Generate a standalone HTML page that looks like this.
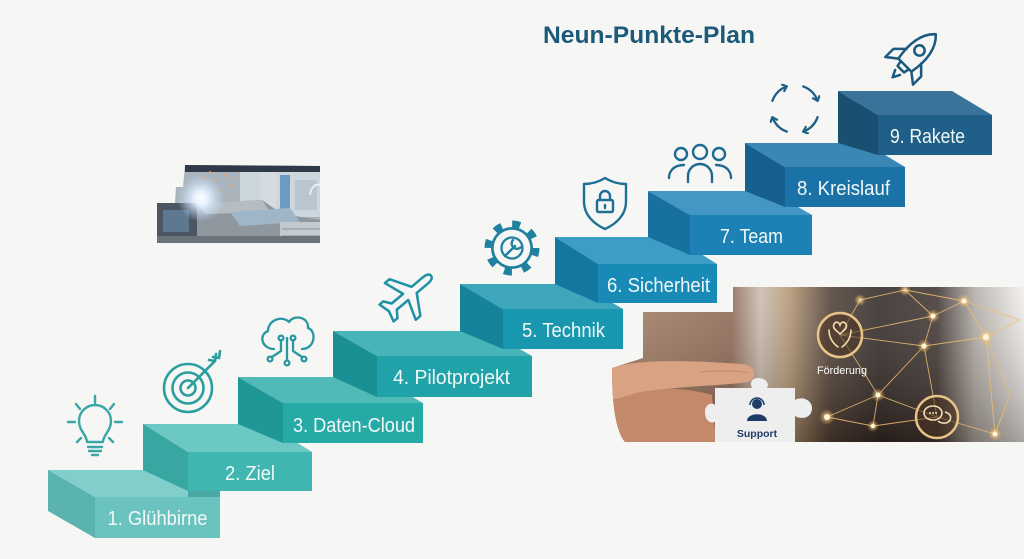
<!DOCTYPE html>
<html><head><meta charset="utf-8"><style>
html,body{margin:0;padding:0;background:#f6f6f4;}
svg{display:block;}
</style></head><body>
<svg width="1024" height="559" viewBox="0 0 1024 559" xmlns="http://www.w3.org/2000/svg">
<defs>
<marker id="ah" markerWidth="10" markerHeight="10" refX="5" refY="4" orient="auto" markerUnits="userSpaceOnUse"><path d="M1,0.5 L5,4 L1,7.5" fill="none" stroke="#1e5f85" stroke-width="2.2" stroke-linecap="round" stroke-linejoin="round"/></marker>
<radialGradient id="spark" cx="0.5" cy="0.5" r="0.5"><stop offset="0" stop-color="#ffffff"/><stop offset="0.3" stop-color="#e8f4ff" stop-opacity="0.95"/><stop offset="1" stop-color="#bcdcff" stop-opacity="0"/></radialGradient>
<linearGradient id="gb" x1="612" y1="0" x2="1024" y2="0" gradientUnits="userSpaceOnUse">
<stop offset="0" stop-color="#a57c62"/><stop offset="0.29" stop-color="#8b6550"/><stop offset="0.36" stop-color="#c9bbad"/><stop offset="0.43" stop-color="#b39470"/><stop offset="0.53" stop-color="#4a3a30"/><stop offset="0.65" stop-color="#2a2220"/><stop offset="0.79" stop-color="#3a302c"/><stop offset="0.88" stop-color="#b0aaa4"/><stop offset="1" stop-color="#f2f0ee"/></linearGradient>
<linearGradient id="gbv" x1="0" y1="0" x2="0" y2="1"><stop offset="0" stop-color="#fff" stop-opacity="0.15"/><stop offset="1" stop-color="#1e140f" stop-opacity="0.35"/></linearGradient>
<radialGradient id="glow" cx="0.5" cy="0.5" r="0.5"><stop offset="0" stop-color="#fff4c8" stop-opacity="0.9"/><stop offset="1" stop-color="#ffb040" stop-opacity="0"/></radialGradient>
<clipPath id="cw"><polygon points="157,203 175,203 176,187 183,187 185,165 320,166 320,243 157,243"/></clipPath>
<clipPath id="cb"><path d="M733,287 H1024 V442 H625 C615,430 612,400 612,368 L643,358 V312 H733 Z"/></clipPath>
</defs>

<!-- Title -->
<text x="649" y="43" text-anchor="middle" font-family="Liberation Sans, sans-serif" font-weight="bold" font-size="24" fill="#1b5a78" textLength="212" lengthAdjust="spacingAndGlyphs">Neun-Punkte-Plan</text>

<!-- Welding photo -->
<g clip-path="url(#cw)">
<rect x="157" y="163" width="163" height="82" fill="#aab4bc"/>
<rect x="240" y="172" width="80" height="45" fill="#ccd6dd"/>
<rect x="260" y="172" width="17" height="50" fill="#d4dade"/>
<rect x="280" y="175" width="10" height="38" fill="#6d9ac0"/>
<rect x="295" y="180" width="22" height="30" fill="#b9c6d0"/>
<rect x="185" y="165" width="135" height="7" fill="#2e3a48"/>
<polygon points="197,203 262,200 282,214 320,220 320,243 197,243" fill="#8e969e"/>
<polygon points="197,203 262,200 270,212 205,214" fill="#b5bdc3"/>
<polygon points="230,212 290,208 300,222 240,226" fill="#9fb6c8"/>
<rect x="280" y="222" width="40" height="21" fill="#c3c9cd"/>
<path d="M282,229 H320 M282,236 H320" stroke="#8e959a" stroke-width="1"/>
<rect x="157" y="203" width="40" height="40" fill="#4b5662"/>
<rect x="163" y="210" width="26" height="22" fill="#5d7890"/>
<rect x="157" y="236" width="163" height="7" fill="#6a727a"/>
<circle cx="201" cy="198" r="24" fill="url(#spark)"/>
<g fill="#f0a050">
<circle cx="215" cy="180" r="1"/><circle cx="225" cy="175" r="1"/><circle cx="210" cy="172" r="1"/><circle cx="230" cy="186" r="1"/><circle cx="220" cy="190" r="1"/><circle cx="235" cy="178" r="1"/><circle cx="205" cy="178" r="1"/><circle cx="228" cy="195" r="1"/>
</g>
<path d="M310,195 A8,12 0 0 1 320,185" fill="none" stroke="#e0eef8" stroke-width="2"/>
</g>

<!-- Business photo -->
<g clip-path="url(#cb)">
<rect x="612" y="287" width="412" height="155" fill="url(#gb)"/>
<rect x="612" y="287" width="412" height="155" fill="url(#gbv)"/>
<g stroke="#f0c070" stroke-width="0.9" opacity="0.85" fill="none">
<path d="M840,335 L933,316 M840,335 L924,346 M933,316 L964,301 M964,301 L986,337 M933,316 L924,346 M924,346 L986,337 M924,346 L878,395 M878,395 L827,417 M878,395 L873,426 M873,426 L937,417 M937,417 L995,434 M986,337 L995,434 M986,337 L1020,320 M964,301 L1020,320 M924,346 L937,417 M878,395 L840,335 M933,316 L905,290 M905,290 L860,300 M860,300 L840,335 M827,417 L873,426 M986,337 L1010,395 M1010,395 L995,434 M964,301 L905,290 M878,395 L937,417"/>
</g>
<g>
<circle cx="964" cy="301" r="7" fill="url(#glow)"/><circle cx="964" cy="301" r="2.5" fill="#fff6d8"/>
<circle cx="933" cy="316" r="7" fill="url(#glow)"/><circle cx="933" cy="316" r="2.5" fill="#fff6d8"/>
<circle cx="986" cy="337" r="8" fill="url(#glow)"/><circle cx="986" cy="337" r="3" fill="#fff6d8"/>
<circle cx="924" cy="346" r="7" fill="url(#glow)"/><circle cx="924" cy="346" r="2.5" fill="#fff6d8"/>
<circle cx="878" cy="395" r="7" fill="url(#glow)"/><circle cx="878" cy="395" r="2.5" fill="#fff6d8"/>
<circle cx="827" cy="417" r="8" fill="url(#glow)"/><circle cx="827" cy="417" r="3" fill="#fff6d8"/>
<circle cx="873" cy="426" r="6" fill="url(#glow)"/><circle cx="873" cy="426" r="2.2" fill="#fff6d8"/>
<circle cx="995" cy="434" r="7" fill="url(#glow)"/><circle cx="995" cy="434" r="2.5" fill="#fff6d8"/>
<circle cx="905" cy="290" r="6" fill="url(#glow)"/><circle cx="860" cy="300" r="6" fill="url(#glow)"/>
</g>
<!-- Förderung -->
<circle cx="840" cy="335" r="22" fill="#4a3322" fill-opacity="0.55" stroke="#e8c488" stroke-width="2.5"/>
<g fill="none" stroke="#f3dcb0" stroke-width="1.6" stroke-linecap="round">
<path d="M840,334 C836,330 832,328 834,324 C836,321 839,322 840,325 C841,322 844,321 846,324 C848,328 844,330 840,334 Z"/>
<path d="M829,330 C829,339 834,344 838,347 M851,330 C851,339 846,344 842,347"/>
</g>
<text x="842" y="374" text-anchor="middle" font-family="Liberation Sans, sans-serif" font-size="11" fill="#ffffff" textLength="50" lengthAdjust="spacingAndGlyphs">Förderung</text>
<!-- chat -->
<circle cx="937" cy="417" r="21" fill="#4a3322" fill-opacity="0.55" stroke="#e8c488" stroke-width="2.5"/>
<g fill="none" stroke="#f3dcb0" stroke-width="1.6">
<ellipse cx="933" cy="413" rx="9" ry="7"/>
<path d="M938,421 C942,424 948,424 950,420 C952,416 949,413 945,412"/>
</g>
<circle cx="930" cy="413" r="1" fill="#f3dcb0"/><circle cx="933" cy="413" r="1" fill="#f3dcb0"/><circle cx="936" cy="413" r="1" fill="#f3dcb0"/>
<!-- hand -->
<path d="M612,395 C650,385 690,388 712,395 L716,442 L620,442 C614,430 612,410 612,395 Z" fill="#c4896a"/>
<path d="M612,368 C640,358 700,361 742,364 C756,365 758,378 748,382 C720,386 680,386 640,392 L612,400 Z" fill="#d9a283"/>
<path d="M700,372 C720,370 740,371 748,373" fill="none" stroke="#b87c5e" stroke-width="1.2" opacity="0.6"/>
<!-- puzzle -->
<path d="M715,388 H752 C748,380 756,376 763,379 C770,382 768,388 766,388 H795 V400 C802,396 812,400 812,408 C812,418 802,420 795,416 V442 H715 V422 C708,424 705,418 705,412 C705,404 712,402 715,405 Z" fill="#eeeeef"/>
<circle cx="757" cy="404" r="5" fill="#1d3d66"/>
<path d="M747,421 C747,412 767,412 767,421 Z" fill="#1d3d66"/>
<path d="M750,405 A7,7 0 0 1 764,405" fill="none" stroke="#1d3d66" stroke-width="1.5"/>
<text x="757" y="437" text-anchor="middle" font-family="Liberation Sans, sans-serif" font-weight="bold" font-size="10.5" fill="#1d3d66">Support</text>
</g>

<!-- Steps -->
<g>
<polygon points="95,497 220,497 173,470 48,470" fill="#80cfcb"/>
<polygon points="95,497 48,470 48,511 95,538" fill="#5ab3af"/>
<rect x="95" y="497" width="125" height="41" fill="#6ac3bf"/>

<polygon points="188,452 312,452 267,424 143,424" fill="#6cc8c3"/>
<polygon points="188,452 143,424 143,470 188,491" fill="#38a6a1"/>
<rect x="188" y="491" width="32" height="6" fill="#4aa9a5"/>
<rect x="188" y="452" width="124" height="39" fill="#3fb6b0"/>

<polygon points="283,403 423,403 378,377 238,377" fill="#4fbab6"/>
<polygon points="283,403 238,377 238,424 283,443" fill="#1f9895"/>
<rect x="283" y="403" width="140" height="40" fill="#26aaa6"/>

<polygon points="377,356 532,356 488,331 333,331" fill="#46b4b8"/>
<polygon points="377,356 333,331 333,377 377,397" fill="#1a9095"/>
<rect x="377" y="356" width="155" height="41" fill="#1fa3a8"/>

<polygon points="503,309 623,309 580,284 460,284" fill="#3ea6bb"/>
<polygon points="503,309 460,284 460,331 503,349" fill="#15849b"/>
<rect x="503" y="309" width="120" height="40" fill="#1897ae"/>

<polygon points="598,264 717,264 674,237 555,237" fill="#3d9dc5"/>
<polygon points="598,264 555,237 555,284 598,303" fill="#13789f"/>
<rect x="598" y="264" width="119" height="39" fill="#178ab5"/>

<polygon points="690,215 812,215 770,191 648,191" fill="#4497c4"/>
<polygon points="690,215 648,191 648,237 690,255" fill="#1870a0"/>
<rect x="690" y="215" width="122" height="40" fill="#1c82b6"/>

<polygon points="785,167 905,167 865,143 745,143" fill="#3a87b6"/>
<polygon points="785,167 745,143 745,191 785,207" fill="#16608f"/>
<rect x="785" y="167" width="120" height="40" fill="#1a72a6"/>

<polygon points="878,115 992,115 952,91 838,91" fill="#3a7399"/>
<polygon points="878,115 838,91 838,143 878,155" fill="#1a4f72"/>
<rect x="878" y="115" width="114" height="40" fill="#1f5f88"/>
</g>

<!-- Step labels -->
<g font-family="Liberation Sans, sans-serif" font-size="20.5" fill="#f2f8f8" text-anchor="middle">
<text x="157.5" y="525" textLength="100" lengthAdjust="spacingAndGlyphs">1. Glühbirne</text>
<text x="250" y="480" textLength="50" lengthAdjust="spacingAndGlyphs">2. Ziel</text>
<text x="354" y="432" textLength="122" lengthAdjust="spacingAndGlyphs">3. Daten-Cloud</text>
<text x="451.5" y="384" textLength="117" lengthAdjust="spacingAndGlyphs">4. Pilotprojekt</text>
<text x="563.5" y="337" textLength="83" lengthAdjust="spacingAndGlyphs">5. Technik</text>
<text x="658.5" y="292" textLength="103" lengthAdjust="spacingAndGlyphs">6. Sicherheit</text>
<text x="751.5" y="243" textLength="63" lengthAdjust="spacingAndGlyphs">7. Team</text>
<text x="843.5" y="195" textLength="93" lengthAdjust="spacingAndGlyphs">8. Kreislauf</text>
<text x="927.5" y="143" textLength="75" lengthAdjust="spacingAndGlyphs">9. Rakete</text>
</g>

<!-- Icons -->
<g fill="none" stroke="#3aa6a5" stroke-width="2.4" stroke-linecap="round" stroke-linejoin="round">
<path d="M87,442 C87,435 79,431 79,421 A16,16 0 1 1 111,421 C111,431 103,435 103,442 Z"/>
<path d="M88,447 H102 M89,451 H101 M92,455 H98"/>
<path d="M95,396 V403 M68,422 H75 M115,422 H122 M76,404 L80,409 M114,404 L110,409 M77,442 L81,438 M113,442 L109,438"/>
</g>
<g fill="none" stroke="#2a9d9f" stroke-width="2.6" stroke-linecap="round" stroke-linejoin="round">
<circle cx="188" cy="388" r="24"/>
<circle cx="188" cy="388" r="15.5"/>
<circle cx="188" cy="388" r="7.5"/>
<path d="M188,388 L215,361"/>
<path d="M209,360 L215,361 L216,354 M213,357 L219,358 L220,351"/>
</g>
<g fill="none" stroke="#2a98a0" stroke-width="2.3" stroke-linecap="round" stroke-linejoin="round">
<path d="M274,349 C262,349 258,335 268,331 C268,320 282,315 289,322 C294,314 309,317 308,328 C317,331 315,349 302,349"/>
<path d="M281,340 V351 L272,357 M287,338 V360 M293,340 V351 L302,357"/>
<circle cx="281" cy="338" r="2.4"/><circle cx="293" cy="338" r="2.4"/>
<circle cx="270" cy="359" r="2.4"/><circle cx="287" cy="363" r="2.4"/><circle cx="304" cy="359" r="2.4"/>
</g>
<g transform="translate(408,295) rotate(-40)" fill="none" stroke="#2090a6" stroke-width="2.5" stroke-linejoin="round">
<path d="M30,0 C30,-3 27,-4 22,-4 L8,-4 L-4,-24 L-10,-24 L-3,-4 L-18,-4 L-23,-11 L-28,-11 L-25,0 L-28,11 L-23,11 L-18,4 L-3,4 L-10,24 L-4,24 L8,4 L22,4 C27,4 30,3 30,0 Z"/>
</g>
<g>
<circle cx="512" cy="248" r="24" fill="none" stroke="#1f80a0" stroke-width="7" stroke-dasharray="8 10.85"/>
<circle cx="512" cy="248" r="21" fill="#1f80a0"/>
<circle cx="512" cy="248" r="18.3" fill="#f6f6f4"/>
<circle cx="512" cy="248" r="10.5" fill="none" stroke="#1f80a0" stroke-width="2.3"/>
<path d="M505,256 L515,246 M513,240 A5,5 0 1 0 521,247" fill="none" stroke="#1f80a0" stroke-width="2.4" stroke-linecap="round"/>
</g>
<g fill="none" stroke="#1e6f95" stroke-width="2.4" stroke-linejoin="round" stroke-linecap="round">
<path d="M605,178 C597,183 590,184 584,184 L584,202 C584,215 594,224 605,229 C616,224 626,215 626,202 L626,184 C620,184 613,183 605,178 Z"/>
<rect x="597" y="200" width="16" height="12" rx="1.5"/>
<path d="M600,200 V196 A5,5 0 0 1 610,196 V200"/>
<path d="M605,205 V208"/>
</g>
<g fill="none" stroke="#1e6a92" stroke-width="2.4" stroke-linecap="round">
<circle cx="700" cy="152" r="7"/>
<path d="M688,182 V176 A12,12 0 0 1 712,176 V182"/>
<circle cx="681" cy="154" r="6"/>
<circle cx="719" cy="154" r="6"/>
<path d="M669,178 C669,170 675,165 684,165"/>
<path d="M731,178 C731,170 725,165 716,165"/>
</g>
<g fill="none" stroke="#1e5f85" stroke-width="2.3" stroke-linecap="round">
<path d="M803.2,86.4 A24,24 0 0 1 817.6,100.8" marker-end="url(#ah)"/>
<path d="M817.6,117.2 A24,24 0 0 1 803.2,131.6" marker-end="url(#ah)"/>
<path d="M786.8,131.6 A24,24 0 0 1 772.4,117.2" marker-end="url(#ah)"/>
<path d="M772.4,100.8 A24,24 0 0 1 786.8,86.4" marker-end="url(#ah)"/>
</g>
<g transform="translate(913,57) rotate(45) scale(1.15)" fill="none" stroke="#1e5a80" stroke-width="2.2" stroke-linejoin="round" stroke-linecap="round">
<path d="M0,-28 C9,-20 11,-6 8,10 L-8,10 C-11,-6 -9,-20 0,-28 Z"/>
<circle cx="0" cy="-8" r="4.5"/>
<path d="M-9,-1 L-17,7 L-17,17 L-8,10 M9,-1 L17,7 L17,17 L8,10"/>
<path d="M-5,10 L-4,15 L4,15 L5,10 M-3,19 L0,25 L3,19"/>
</g>
</svg>
</body></html>
